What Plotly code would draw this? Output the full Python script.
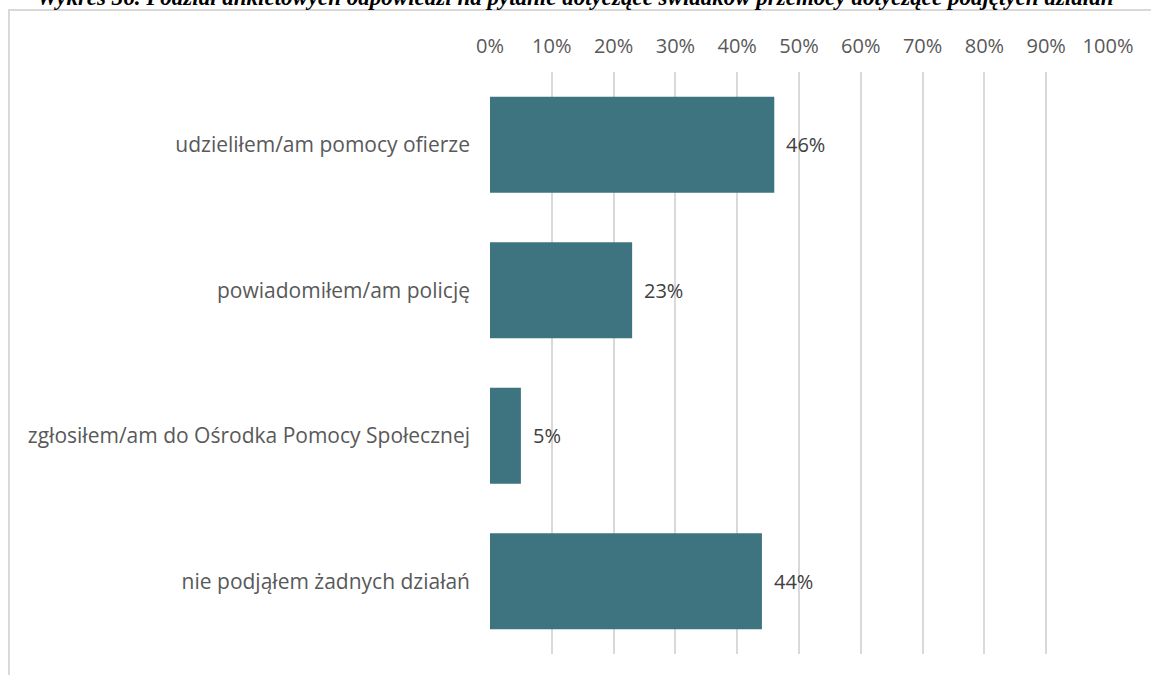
import plotly.graph_objects as go

categories = [
    "udzieliłem/am pomocy ofierze",
    "powiadomiłem/am policję",
    "zgłosiłem/am do Ośrodka Pomocy Społecznej",
    "nie podjąłem żadnych działań",
]
values = [46, 23, 5, 44]
tick_vals = [0, 10, 20, 30, 40, 50, 60, 70, 80, 90, 100]
tick_text = [f"{v}%" for v in tick_vals]
title_text = "Wykres 36. Podział ankietowych odpowiedzi na pytanie dotyczące świadków przemocy dotyczące podjętych działań"

W, H = 1151, 675
L, R, T, B = 490, 43, 72, 21
pw = W - L - R
ph = H - T - B
FONT = "Open Sans"

fig = go.Figure()
fig.add_trace(go.Bar(
    y=categories, x=values, orientation="h",
    marker=dict(color="#3E7380", line=dict(width=0)),
    hoverinfo="skip",
))

for c, v in zip(categories, values):
    fig.add_annotation(
        x=v, y=c, xref="x", yref="y", text=f"{v}%", showarrow=False,
        xanchor="left", yanchor="middle", xshift=10,
        font=dict(family=FONT, size=20, color="#404040"),
    )

fig.update_layout(
    width=W, height=H,
    margin=dict(l=L, r=R, t=T, b=B),
    paper_bgcolor="white", plot_bgcolor="white",
    bargap=0.34, showlegend=False,
    font=dict(family=FONT, color="#595959"),
    xaxis=dict(
        range=[0, 100], side="top", tickvals=tick_vals, ticktext=tick_text,
        showgrid=True, gridcolor="#d9d9d9", gridwidth=1.5,
        zeroline=False, showline=False, ticks="",
        ticklabelstandoff=14,
        tickfont=dict(family=FONT, size=20, color="#595959"),
        fixedrange=True,
    ),
    yaxis=dict(
        categoryorder="array", categoryarray=categories[::-1],
        showgrid=False, zeroline=False, showline=False, ticks="",
        ticklabelstandoff=19,
        tickfont=dict(family=FONT, size=21, color="#595959"),
        fixedrange=True,
    ),
)

# outer chart frame
fig.add_shape(type="rect", xref="paper", yref="paper",
              x0=(9 - L) / pw, x1=1.2, y0=-0.2, y1=1 + (T - 10) / ph,
              line=dict(color="#d9d9d9", width=2), fillcolor="rgba(0,0,0,0)", layer="below")

# clipped title above the frame
fig.add_annotation(
    xref="paper", yref="paper", x=(575 - L) / pw, y=1 + (T + 3) / ph,
    xanchor="center", yanchor="middle", showarrow=False,
    text=f"<b><i>{title_text}</i></b>",
    font=dict(family="Liberation Serif", size=23, color="black"),
)

fig.write_html(
    "out.html",
    config={"displayModeBar": False},
    post_script="document.body.style.margin='0';document.body.style.overflow='hidden';",
)
